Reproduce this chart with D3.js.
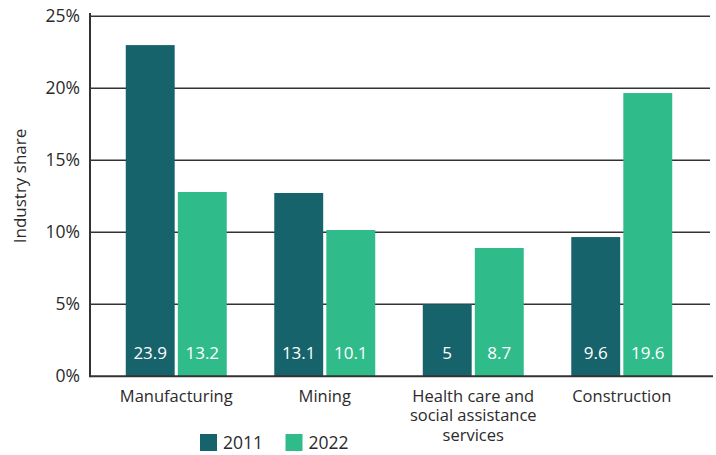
<!DOCTYPE html>
<html>
<head>
<meta charset="utf-8">
<script src="https://d3js.org/d3.v7.min.js"></script>
<style>
  body { margin: 0; background: #fff; }
  text { font-family: "Open Sans", "Noto Sans", sans-serif; }
</style>
</head>
<body>
<svg id="chart" width="716" height="455"></svg>
<script>
// values (bar heights, %), labels as printed
const industries = [["Manufacturing"], ["Mining"], ["Health care and", "social assistance", "services"], ["Construction"]];
const years = ["2011", "2022"];
const share2011 = [23.0, 12.73, 5.0, 9.67];
const share2022 = [12.8, 10.16, 8.91, 19.67];
const labels2011 = ["23.9", "13.1", "5", "9.6"];
const labels2022 = ["13.2", "10.1", "8.7", "19.6"];
const yTicks = [0, 5, 10, 15, 20, 25];

const colors = { "2011": "#16636b", "2022": "#30bb8b" };
const svg = d3.select("#chart");
const plotLeft = 90, plotRight = 710, plotTop = 16.3, plotBottom = 376.3;

const names = industries.map(d => d.join(" "));
const x0 = d3.scaleBand().domain(names).range([102, 696]).paddingInner(0.32).paddingOuter(0.16);
const x1 = d3.scaleBand().domain(years).range([0, x0.bandwidth()]).paddingInner(0.06);
const y = d3.scaleLinear().domain([0, 25]).range([plotBottom, plotTop]);

// gridlines
svg.append("g").selectAll("line").data(yTicks.slice(1)).join("line")
  .attr("x1", plotLeft).attr("x2", plotRight)
  .attr("y1", d => y(d)).attr("y2", d => y(d))
  .attr("stroke", "#333").attr("stroke-width", 1.5);

// y labels
svg.append("g").selectAll("text").data(yTicks).join("text")
  .attr("x", 80).attr("y", d => y(d)).attr("dy", "0.35em")
  .attr("text-anchor", "end").attr("font-size", 17.5).attr("fill", "#2b2b2b")
  .text(d => d + "%");

svg.append("text")
  .attr("transform", "translate(20,186) rotate(-90)")
  .attr("text-anchor", "middle").attr("dy", "0.35em")
  .attr("font-size", 17).attr("fill", "#2b2b2b")
  .text("Industry share");

const rows = names.map((n, i) => ({
  name: n,
  bars: [
    { year: "2011", v: share2011[i], label: labels2011[i] },
    { year: "2022", v: share2022[i], label: labels2022[i] }
  ]
}));

const groups = svg.append("g").selectAll("g").data(rows).join("g")
  .attr("transform", d => `translate(${x0(d.name)},0)`);

groups.selectAll("rect").data(d => d.bars).join("rect")
  .attr("x", d => x1(d.year)).attr("width", x1.bandwidth())
  .attr("y", d => y(d.v)).attr("height", d => y(0) - y(d.v))
  .attr("fill", d => colors[d.year]);

groups.selectAll("text.val").data(d => d.bars).join("text")
  .attr("class", "val")
  .attr("x", d => x1(d.year) + x1.bandwidth() / 2).attr("y", 353).attr("dy", "0.35em")
  .attr("text-anchor", "middle").attr("font-size", 17).attr("fill", "#fff")
  .text(d => d.label);

// axes lines
svg.append("line").attr("x1", plotLeft).attr("x2", plotLeft).attr("y1", 13).attr("y2", plotBottom + 1)
  .attr("stroke", "#333").attr("stroke-width", 2);
svg.append("line").attr("x1", plotLeft).attr("x2", plotRight + 3).attr("y1", plotBottom).attr("y2", plotBottom)
  .attr("stroke", "#333").attr("stroke-width", 2);

// category labels
industries.forEach((lines, i) => {
  const cx = x0(names[i]) + x0.bandwidth() / 2;
  const t = svg.append("text")
    .attr("x", cx).attr("y", 396)
    .attr("text-anchor", "middle").attr("font-size", 16.5).attr("fill", "#2b2b2b");
  lines.forEach((l, j) => {
    t.append("tspan").attr("x", cx)
      .attr("y", 396 + j * 19.5).attr("dy", "0.35em").text(l);
  });
});

// legend
const legend = svg.append("g").selectAll("g").data(years).join("g")
  .attr("transform", (d, i) => `translate(${200 + i * 85.5},434)`);
legend.append("rect").attr("width", 17).attr("height", 17).attr("fill", d => colors[d]);
legend.append("text").attr("x", 23).attr("y", 8.5).attr("dy", "0.35em")
  .attr("font-size", 17.5).attr("fill", "#2b2b2b").text(d => d);
</script>
</body>
</html>
